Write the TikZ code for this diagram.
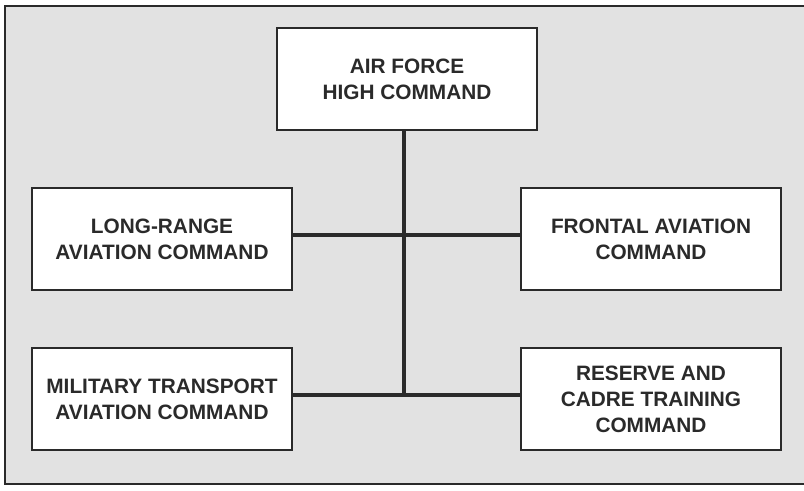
\documentclass[tikz,border=0pt]{standalone}
\usepackage{fontspec}
\setmainfont{Liberation Sans}
\definecolor{bggray}{RGB}{226,226,226}
\definecolor{inkgray}{RGB}{42,42,42}
\tikzset{
    cmdbox/.style={draw=inkgray, line width=1.2pt, fill=white, minimum width=6.5cm, minimum height=2.55cm,
        align=center, text=inkgray, font=\fontsize{14.8}{18.4}\selectfont\bfseries, inner sep=0pt},
    link/.style={draw=inkgray, line width=2.6pt}
}
\begin{document}
\begin{tikzpicture}[x=0.025cm, y=-0.025cm, line cap=butt]
            \useasboundingbox (0, 0) rectangle (804, 491);
            \fill[bggray] (5, 6) rectangle (804, 484);
            \draw[inkgray, line width=0.9pt] (804, 6)--(5, 6)--(5, 484)--(804, 484);
            \node[cmdbox] (afhc) at (407, 79) {AIR FORCE\\HIGH COMMAND};
            \node[cmdbox] (lra) at (162, 239) {LONG-RANGE\\AVIATION COMMAND};
            \node[cmdbox] (fra) at (651, 239) {FRONTAL AVIATION\\COMMAND};
            \node[cmdbox] (mta) at (162, 399) {MILITARY TRANSPORT\\AVIATION COMMAND};
            \node[cmdbox] (rct) at (651, 399) {RESERVE AND\\CADRE TRAINING\\COMMAND};
            \coordinate (jb) at ([yshift=0.1cm]afhc.south |- mta.east);
            \draw[link] ([xshift=-0.075cm]afhc.south)--([xshift=-0.075cm]jb);
            \draw[link] ([yshift=0.1cm]lra.east)--([yshift=0.1cm]fra.west);
            \draw[link] ([yshift=0.1cm]mta.east)--([yshift=0.1cm]rct.west);
        \end{tikzpicture}
\end{document}
